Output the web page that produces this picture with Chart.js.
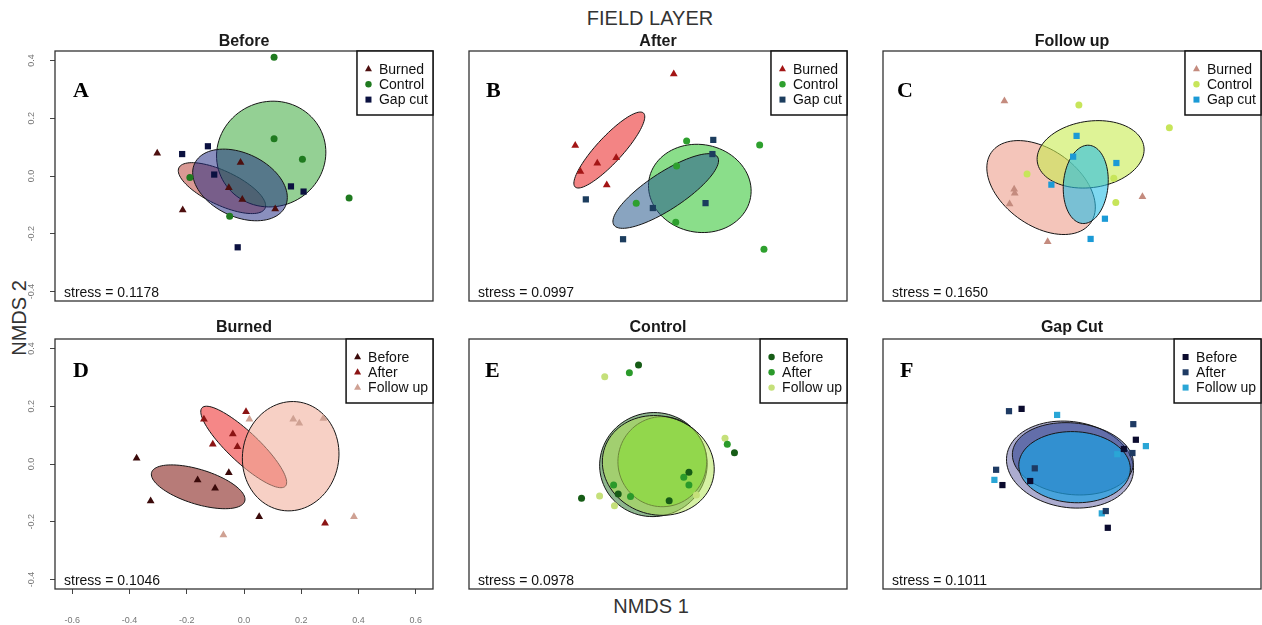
<!DOCTYPE html>
<html>
<head>
<meta charset="utf-8">
<title>Field layer NMDS</title>
<script src="https://cdn.jsdelivr.net/npm/chart.js@4.4.1/dist/chart.umd.min.js"></script>
<style>
  body { margin: 0; background: #fff; font-family: "Liberation Sans", Arial, sans-serif; }
  #fig { position: relative; width: 1262px; height: 625px; overflow: hidden; background: #fff; }
  #fig canvas { position: absolute; }
  .lab { position: absolute; color: #333; white-space: nowrap; transform: translate(-50%, -50%); }
</style>
</head>
<body>
<div id="fig">
  <div class="lab" style="left:650px;top:18px;font-size:20px">FIELD LAYER</div>
  <div class="lab" style="left:651px;top:606px;font-size:20px">NMDS 1</div>
  <div class="lab" style="left:19px;top:318px;font-size:20px;transform:translate(-50%,-50%) rotate(-90deg)">NMDS 2</div>
  <canvas id="pA" width="434" height="337" style="left:0;top:0"></canvas>
  <canvas id="pB" width="434" height="337" style="left:414px;top:0"></canvas>
  <canvas id="pC" width="434" height="337" style="left:828px;top:0"></canvas>
  <canvas id="pD" width="434" height="337" style="left:0;top:288px"></canvas>
  <canvas id="pE" width="434" height="337" style="left:414px;top:288px"></canvas>
  <canvas id="pF" width="434" height="337" style="left:828px;top:288px"></canvas>
</div>
<script>
// --- axes shared by all six panels ---
const xRange = [-0.66, 0.66];
const yRange = [-0.433, 0.433];
const axisTicks = [-0.6, -0.4, -0.2, 0.0, 0.2, 0.4, 0.6];

const siteNames = ['Burned', 'Control', 'Gap cut'];
const timeNames = ['Before', 'After', 'Follow up'];
const stressValues = ['0.1178', '0.0997', '0.1650', '0.1046', '0.0978', '0.1011'];

// --- A: Before ---
const aBurned  = [[-0.303, 0.079], [-0.214, -0.118], [-0.012, 0.047], [-0.053, -0.041], [-0.006, -0.081], [0.109, -0.114]];
const aControl = [[0.105, 0.411], [0.105, 0.129], [0.204, 0.058], [0.367, -0.076], [-0.189, -0.005], [-0.050, -0.139]];
const aGapCut  = [[-0.216, 0.076], [-0.126, 0.103], [-0.104, 0.005], [0.164, -0.036], [0.208, -0.054], [-0.022, -0.247]];
// ellipses: centre x, centre y, semi-axis a, semi-axis b, angle (deg)
const aEllipses = [[-0.077, -0.042, 0.166, 0.059, -25], [0.095, 0.076, 0.192, 0.182, 20], [-0.014, -0.031, 0.175, 0.110, -25]];

// --- B: After ---
const bBurned  = [[0.055, 0.353], [-0.289, 0.106], [-0.271, 0.016], [-0.212, 0.044], [-0.146, 0.063], [-0.179, -0.031]];
const bControl = [[0.100, 0.121], [0.355, 0.107], [0.065, 0.035], [-0.076, -0.094], [0.062, -0.160], [0.370, -0.254]];
const bGapCut  = [[0.193, 0.125], [0.190, 0.076], [-0.252, -0.081], [-0.018, -0.111], [0.166, -0.094], [-0.122, -0.219]];
const bEllipses = [[-0.170, 0.090, 0.175, 0.045, 47], [0.146, -0.043, 0.180, 0.152, -10], [0.027, -0.052, 0.216, 0.064, 33]];

// --- C: Follow up ---
const cBurned  = [[-0.236, 0.260], [-0.202, -0.046], [-0.200, -0.060], [-0.218, -0.097], [-0.085, -0.228], [0.246, -0.072]];
const cControl = [[0.024, 0.246], [0.340, 0.167], [-0.157, 0.007], [0.146, -0.008], [0.153, -0.092]];
const cGapCut  = [[0.016, 0.139], [0.004, 0.067], [0.155, 0.045], [-0.072, -0.030], [0.115, -0.148], [0.065, -0.218]];
const cEllipses = [[-0.108, -0.040, 0.212, 0.132, -35], [0.065, 0.075, 0.188, 0.115, 8], [0.048, -0.029, 0.136, 0.078, 85]];

// --- D: Burned ---
const dBefore   = [[-0.375, 0.020], [-0.326, -0.128], [-0.162, -0.055], [-0.101, -0.084], [-0.053, -0.030], [0.053, -0.183]];
const dAfter    = [[-0.140, 0.155], [-0.109, 0.068], [-0.039, 0.104], [-0.023, 0.060], [0.007, 0.181], [0.283, -0.205]];
const dFollowUp = [[0.019, 0.155], [0.172, 0.155], [0.193, 0.141], [0.277, 0.158], [0.384, -0.183], [-0.072, -0.246]];
const dEllipses = [[-0.160, -0.079, 0.170, 0.060, -17], [-0.001, 0.059, 0.199, 0.053, -43], [0.163, 0.027, 0.190, 0.168, 80]];

// --- E: Control ---
const eBefore   = [[-0.068, 0.343], [0.267, 0.039], [-0.267, -0.119], [-0.139, -0.104], [0.039, -0.127], [0.108, -0.029]];
const eAfter    = [[-0.100, 0.316], [0.242, 0.068], [0.090, -0.046], [0.108, -0.073], [-0.155, -0.073], [-0.096, -0.113]];
const eFollowUp = [[-0.186, 0.302], [0.234, 0.089], [-0.204, -0.111], [-0.152, -0.145], [0.134, -0.107]];
const eEllipses = [[-0.016, -0.002, 0.188, 0.180, 10], [0.015, 0.008, 0.155, 0.156, 0], [0.001, -0.005, 0.197, 0.171, -15]];

// --- F: Gap Cut ---
const fBefore   = [[-0.176, 0.191], [0.223, 0.084], [-0.243, -0.073], [0.125, -0.221], [-0.146, -0.059], [0.181, 0.052]];
const fAfter    = [[-0.220, 0.183], [0.214, 0.138], [-0.265, -0.020], [0.118, -0.163], [-0.130, -0.015], [0.211, 0.038]];
const fFollowUp = [[-0.052, 0.170], [0.258, 0.062], [-0.271, -0.055], [0.104, -0.171], [0.158, 0.034]];
const fEllipses = [[-0.007, -0.002, 0.223, 0.149, -8], [0.003, 0.018, 0.212, 0.124, -6], [0.009, -0.011, 0.195, 0.123, -3]];

const panels = [
    { canvas: 'pA', title: 'Before', letter: 'A', row: 0, yAxis: true, xAxis: false, names: siteNames,
      groups: [aBurned, aControl, aGapCut], shapes: ['triangle', 'circle', 'rect'], ellipses: aEllipses,
      colors: ['#4d0f0f', '#1f7a1f', '#0b1140'],
      fills: ['rgba(185,70,60,0.55)', 'rgba(60,170,60,0.55)', 'rgba(30,40,130,0.52)'], letterX: 18 },
    { canvas: 'pB', title: 'After', letter: 'B', row: 0, names: siteNames,
      groups: [bBurned, bControl, bGapCut], shapes: ['triangle', 'circle', 'rect'], ellipses: bEllipses,
      colors: ['#a31515', '#2ea02e', '#1c3d5e'],
      fills: ['rgba(235,50,50,0.6)', 'rgba(60,200,60,0.6)', 'rgba(40,90,140,0.55)'], letterX: 17 },
    { canvas: 'pC', title: 'Follow up', letter: 'C', row: 0, names: siteNames,
      groups: [cBurned, cControl, cGapCut], shapes: ['triangle', 'circle', 'rect'], ellipses: cEllipses,
      colors: ['#c48b7e', '#c7e55a', '#1b9ad6'],
      fills: ['rgba(235,150,130,0.55)', 'rgba(200,235,80,0.6)', 'rgba(40,190,230,0.6)'], letterX: 14 },
    { canvas: 'pD', title: 'Burned', letter: 'D', row: 1, yAxis: true, xAxis: true, names: timeNames,
      groups: [dBefore, dAfter, dFollowUp], shapes: ['triangle', 'triangle', 'triangle'], ellipses: dEllipses,
      colors: ['#3b0a0a', '#8b1414', '#cfa193'],
      fills: ['rgba(135,35,30,0.6)', 'rgba(240,70,70,0.65)', 'rgba(240,170,150,0.55)'], letterX: 18 },
    { canvas: 'pE', title: 'Control', letter: 'E', row: 1, names: timeNames,
      groups: [eBefore, eAfter, eFollowUp], shapes: ['circle', 'circle', 'circle'], ellipses: eEllipses,
      colors: ['#165c16', '#2a9a2a', '#c5e07a'],
      fills: ['rgba(30,110,30,0.5)', 'rgba(90,205,30,0.72)', 'rgba(180,230,90,0.55)'], letterX: 16 },
    { canvas: 'pF', title: 'Gap Cut', letter: 'F', row: 1, names: timeNames,
      groups: [fBefore, fAfter, fFollowUp], shapes: ['rect', 'rect', 'rect'], ellipses: fEllipses,
      colors: ['#0b0b2e', '#1e3a63', '#2aa6d6'],
      fills: ['rgba(90,90,160,0.5)', 'rgba(40,60,140,0.55)', 'rgba(30,160,225,0.7)'], letterX: 17 }
];

const SANS = '"Liberation Sans", Arial, sans-serif';
const radiusFor = { triangle: 4.5, circle: 3.5, rect: 4.4 };

function drawMarker(ctx, shape, x, y, color) {
    ctx.fillStyle = color;
    ctx.beginPath();
    if (shape === 'triangle') {
        ctx.moveTo(x, y - 4); ctx.lineTo(x + 3.5, y + 2.2); ctx.lineTo(x - 3.5, y + 2.2);
    } else if (shape === 'rect') {
        ctx.rect(x - 3, y - 3, 6, 6);
    } else {
        ctx.arc(x, y, 3.2, 0, Math.PI * 2);
    }
    ctx.fill();
}

// ellipse outline traced in data space, mapped through the chart's scales
function drawEllipse(chart, e, fill) {
    const xs = chart.scales.x, ys = chart.scales.y, ctx = chart.ctx;
    const [cx, cy, a, b, deg] = e;
    const t = deg * Math.PI / 180;
    ctx.beginPath();
    for (let i = 0; i <= 90; i++) {
        const u = i / 90 * Math.PI * 2;
        const dx = a * Math.cos(u), dy = b * Math.sin(u);
        const px = xs.getPixelForValue(cx + dx * Math.cos(t) - dy * Math.sin(t));
        const py = ys.getPixelForValue(cy + dx * Math.sin(t) + dy * Math.cos(t));
        if (i === 0) ctx.moveTo(px, py); else ctx.lineTo(px, py);
    }
    ctx.closePath();
    ctx.fillStyle = fill;
    ctx.fill();
    ctx.strokeStyle = '#151515';
    ctx.lineWidth = 1;
    ctx.stroke();
}

function decorations(p, idx) {
    return {
        id: 'nmdsDeco',
        beforeDatasetsDraw(chart) {
            p.ellipses.forEach((e, i) => drawEllipse(chart, e, p.fills[i]));
        },
        afterDraw(chart) {
            const ctx = chart.ctx, area = chart.chartArea;
            ctx.save();
            // frame
            ctx.strokeStyle = '#333';
            ctx.lineWidth = 1.3;
            ctx.strokeRect(area.left, area.top, area.right - area.left, area.bottom - area.top);

            // panel title
            ctx.fillStyle = '#1a1a1a';
            ctx.font = 'bold 16px ' + SANS;
            ctx.textAlign = 'center';
            ctx.textBaseline = 'middle';
            ctx.fillText(p.title, (area.left + area.right) / 2, area.top - (p.row ? 11 : 9));

            // panel letter
            ctx.font = 'bold 22px "Liberation Serif", "Times New Roman", serif';
            ctx.textAlign = 'left';
            ctx.textBaseline = 'alphabetic';
            ctx.fillStyle = '#000';
            ctx.fillText(p.letter, area.left + p.letterX, area.top + (p.row ? 38 : 46));

            // stress
            ctx.font = '14px ' + SANS;
            ctx.textBaseline = 'middle';
            ctx.fillStyle = '#111';
            ctx.fillText('stress = ' + stressValues[idx], area.left + 9, area.bottom - 8);

            // legend box, top right
            ctx.font = '14px ' + SANS;
            const textW = Math.max(...chart.data.datasets.map(d => ctx.measureText(d.label).width));
            const boxW = textW + 27, boxH = 64;
            const bx = area.right - boxW, by = area.top;
            ctx.fillStyle = '#fff';
            ctx.fillRect(bx, by, boxW, boxH);
            ctx.strokeStyle = '#111';
            ctx.lineWidth = 1.5;
            ctx.strokeRect(bx, by, boxW, boxH);
            chart.data.datasets.forEach((d, i) => {
                const ry = by + 18 + i * 15.3;
                drawMarker(ctx, p.shapes[i], bx + 11.5, ry, d.backgroundColor);
                ctx.fillStyle = '#111';
                ctx.fillText(d.label, bx + 22, ry + 1);
            });

            // rotated y tick labels (R style)
            if (p.yAxis) {
                const ys = chart.scales.y;
                ctx.font = '9px ' + SANS;
                ctx.fillStyle = '#777';
                ctx.textAlign = 'center';
                ys.ticks.forEach(t => {
                    ctx.save();
                    ctx.translate(area.left - 23, ys.getPixelForValue(t.value));
                    ctx.rotate(-Math.PI / 2);
                    ctx.fillText(t.value.toFixed(1), 0, 0);
                    ctx.restore();
                });
            }
            ctx.restore();
        }
    };
}

panels.forEach((p, idx) => {
    new Chart(document.getElementById(p.canvas), {
        type: 'scatter',
        data: {
            datasets: p.groups.map((pts, i) => ({
                label: p.names[i],
                data: pts.map(v => ({ x: v[0], y: v[1] })),
                pointStyle: p.shapes[i],
                pointRadius: radiusFor[p.shapes[i]],
                backgroundColor: p.colors[i],
                borderColor: p.colors[i],
                borderWidth: 0
            }))
        },
        options: {
            responsive: false,
            animation: false,
            events: [],
            // the axes reserve their space even when hidden (afterFit), so every panel lines up
            layout: { autoPadding: false, padding: { left: 0, top: 51, right: 1, bottom: 0 } },
            plugins: { legend: { display: false }, tooltip: { enabled: false } },
            scales: {
                x: {
                    type: 'linear',
                    min: xRange[0], max: xRange[1],
                    display: !!p.xAxis,
                    afterFit: s => { s.height = 36; s.paddingLeft = 0; s.paddingRight = 0; },
                    afterBuildTicks: s => { s.ticks = axisTicks.map(v => ({ value: v })); },
                    grid: { drawOnChartArea: false, drawTicks: true, tickLength: 5, color: '#444' },
                    border: { display: false },
                    ticks: {
                        padding: 21, color: '#777', font: { size: 9, family: SANS },
                        maxRotation: 0, autoSkip: false,
                        callback: v => Number(v).toFixed(1)
                    }
                },
                y: {
                    type: 'linear',
                    min: yRange[0], max: yRange[1],
                    display: !!p.yAxis,
                    afterFit: s => { s.width = 55; s.paddingTop = 0; s.paddingBottom = 0; },
                    afterBuildTicks: s => { s.ticks = axisTicks.filter(v => Math.abs(v) < 0.42).map(v => ({ value: v })); },
                    grid: { drawOnChartArea: false, drawTicks: true, tickLength: 5, color: '#444' },
                    border: { display: false },
                    ticks: { display: false }
                }
            }
        },
        plugins: [decorations(p, idx)]
    });
});
</script>
</body>
</html>
